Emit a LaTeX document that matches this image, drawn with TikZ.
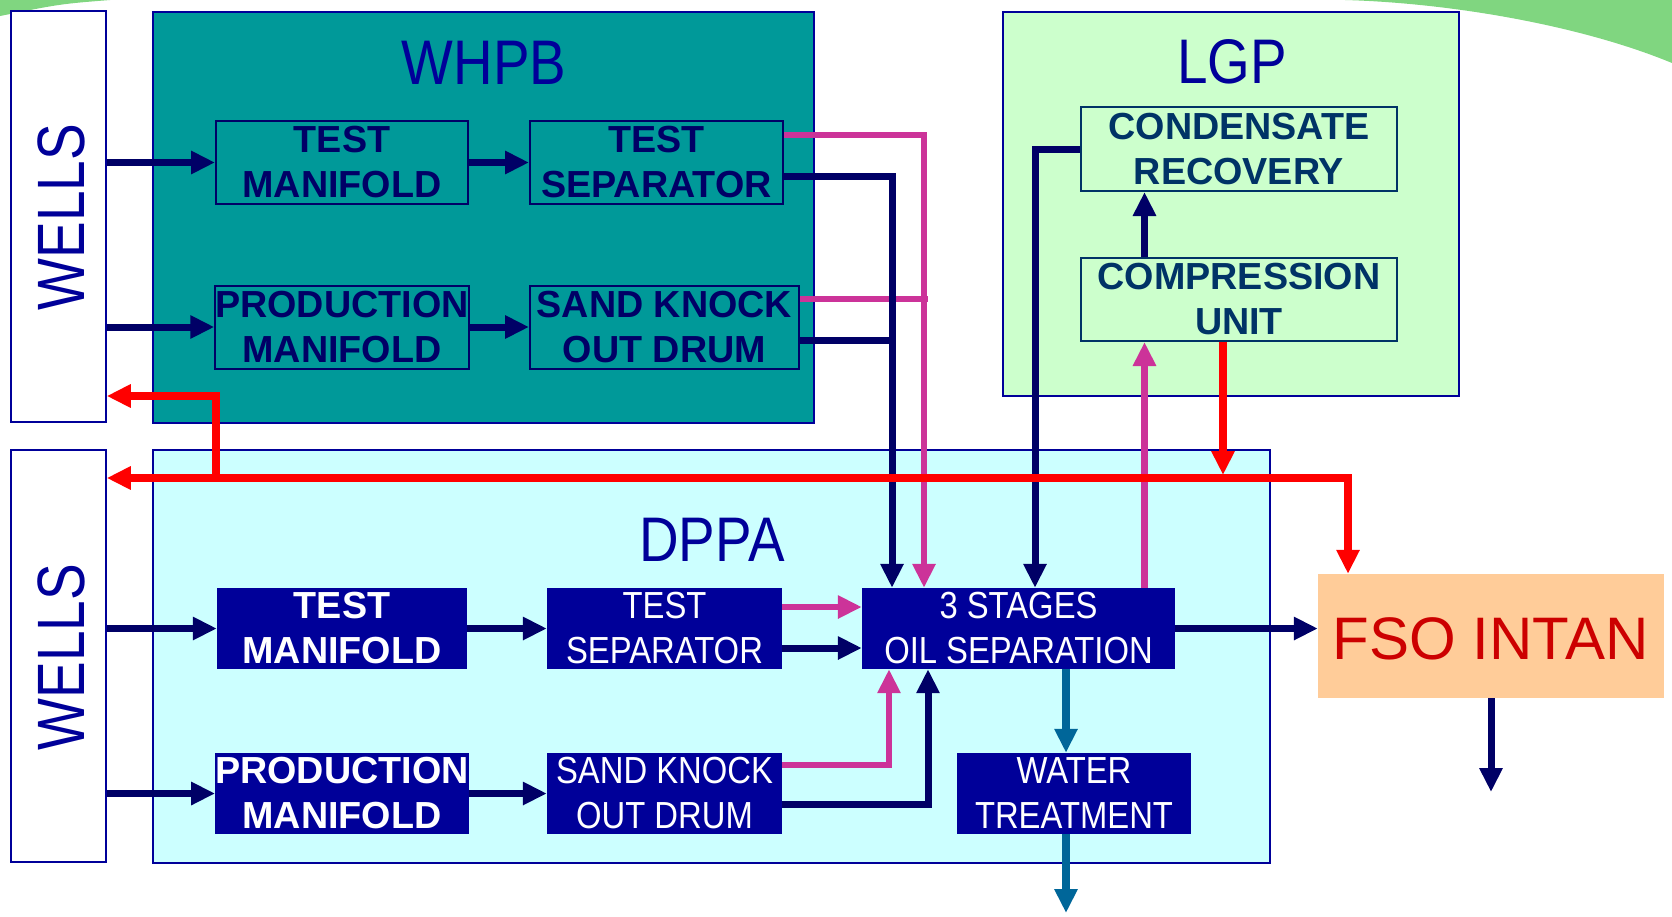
\documentclass[tikz,border=0pt]{standalone}
\usepackage{fontspec}
\setmainfont{Liberation Sans}
\newfontfamily\narrowfont[FakeStretch=0.87]{Liberation Sans}
\newfontfamily\wellsfont[FakeStretch=0.82]{Liberation Sans}
\usetikzlibrary{arrows.meta}
\definecolor{areablue}{HTML}{000099}
\definecolor{flownavy}{HTML}{000066}
\definecolor{gasmagenta}{HTML}{CC3399}
\definecolor{liftred}{HTML}{FF0000}
\definecolor{waterteal}{HTML}{006699}
\definecolor{whpbteal}{HTML}{009999}
\definecolor{lgpgreen}{HTML}{CCFFCC}
\definecolor{dppacyan}{HTML}{CCFFFF}
\definecolor{fsopeach}{HTML}{FFCC99}
\definecolor{fsored}{HTML}{CC0000}
\definecolor{lgptext}{HTML}{003366}
\definecolor{swoosh}{HTML}{80D680}
\begin{document}
\begin{tikzpicture}[x=1pt, y=-1pt, >={Triangle[length=24pt,width=22pt]},
  area/.style={draw=areablue, line width=1.5pt},
  platebox/.style={draw=flownavy, line width=2pt, text=flownavy, align=center, inner sep=0pt, minimum height=83pt, font=\fontsize{37.7}{45}\selectfont\bfseries},
  lgpbox/.style={platebox, draw=lgptext, text=lgptext},
  unitbox/.style={fill=areablue, text=white, align=center, inner sep=0pt, minimum height=81pt, font=\narrowfont\fontsize{37.7}{45}\selectfont},
  boldunit/.style={unitbox, font=\fontsize{37.7}{45}\selectfont\bfseries},
  title/.style={text=areablue, inner sep=0pt, font=\narrowfont\fontsize{63}{63}\selectfont},
  wellsbox/.style={draw=areablue, line width=1.5pt, fill=white, minimum width=95pt, minimum height=411pt},
  wellslabel/.style={rotate=90, text=areablue, inner sep=0pt, font=\wellsfont\fontsize{67}{67}\selectfont},
  oilline/.style={draw=flownavy, line width=7pt},
  gasline/.style={draw=gasmagenta, line width=6.5pt},
  liftline/.style={draw=liftred, line width=7.5pt},
  waterline/.style={draw=waterteal, line width=7.5pt}]
\useasboundingbox (0,0) rectangle (1672,916);
\fill[swoosh] (1345,0) .. controls (1450,3) and (1580,25) .. (1672,63) -- (1672,0) -- cycle;
\fill[swoosh] (0,0) -- (110,0) .. controls (60,4) .. (0,16) -- cycle;

\draw[area, fill=whpbteal] (153,12) rectangle (814,423);
\draw[area, fill=lgpgreen] (1003,12) rectangle (1459,396);
\draw[area, fill=dppacyan] (153,450) rectangle (1270,863);

\node[wellsbox] (wellsA) at (58.5,216.5) {};
\node[wellsbox, minimum height=412pt] (wellsB) at (58.5,656) {};
\node[wellslabel] (wellsAlabel) at (61.5,217) {WELLS};
\node[wellslabel] (wellsBlabel) at (61.5,657) {WELLS};

\node[title] (whpbtitle) at (484,62.5) {WHPB};
\node[title] (lgptitle) at (1232,62) {LGP};
\node[title] (dppatitle) at (712,539.5) {DPPA};

\node[platebox, minimum width=252pt] (tmA) at (342,162.5) {TEST\\MANIFOLD};
\node[platebox, minimum width=253pt] (tsA) at (656.5,162.5) {TEST\\SEPARATOR};
\node[platebox, minimum width=252pt] (pmA) at (342,327) {PRODUCTION\\MANIFOLD};
\node[platebox, minimum width=269pt] (skA) at (664.5,327) {SAND KNOCK\\OUT DRUM};

\node[lgpbox, minimum width=316pt, minimum height=84pt] (cr) at (1239,149) {CONDENSATE\\RECOVERY};
\node[lgpbox, minimum width=316pt] (cu) at (1239,299.5) {COMPRESSION\\UNIT};

\node[boldunit, minimum width=250pt] (tmB) at (342,628.5) {TEST\\MANIFOLD};
\node[unitbox, minimum width=235pt] (tsB) at (664.5,628.5) {TEST\\SEPARATOR};
\node[boldunit, minimum width=250pt] (pmB) at (342,793.5) {PRODUCTION\\MANIFOLD};
\node[unitbox, minimum width=235pt] (skB) at (664.5,793.5) {SAND KNOCK\\OUT DRUM};
\node[unitbox, minimum width=313pt] (os) at (1018.5,628.5) {3 STAGES\\OIL SEPARATION};
\node[unitbox, minimum width=234pt] (wt) at (1074,793.5) {WATER\\TREATMENT};

\node[fill=fsopeach, minimum width=346pt, minimum height=124pt] (fso) at (1491,636) {};
\node[text=fsored, inner sep=0pt, font=\fontsize{60}{60}\selectfont] (fsolabel) at (1490.5,638.5) {FSO INTAN};

\coordinate (colOil) at (892,0);
\coordinate (colGas) at (924,0);
\coordinate (colCond) at (1035,0);
\coordinate (colComp) at (1144.5,0);
\coordinate (colWater) at (1066,0);
\coordinate (liftsplit) at (216,478);
\coordinate (liftup) at (216,396);
\coordinate (liftend) at (1348,478);
\coordinate (liftdrop) at (1223,475);
\coordinate (fsoout) at (1491,792);
\coordinate (waterout) at (1066,913);

\draw[oilline, ->] (wellsA.east |- tmA.west) -- (tmA.west);
\draw[oilline, ->] (tmA) -- (tsA);
\draw[oilline, ->] (wellsA.east |- pmA.west) -- (pmA.west);
\draw[oilline, ->] (pmA) -- (skA);
\draw[gasline, ->] ([yshift=27.5pt]tsA.east) -| (os.north -| colGas);
\draw[gasline] ([yshift=28pt]skA.east) -- ++(128,0);
\draw[oilline, ->] ([yshift=-13.5pt]tsA.east) -| (os.north -| colOil);
\draw[oilline] ([yshift=-13pt]skA.east) -- ++(96,0);

\draw[oilline, ->] (cr.west) -| (os.north -| colCond);
\draw[oilline, ->] (cu.north -| colComp) -- (cr.south -| colComp);
\draw[gasline, ->] (os.north -| colComp) -- (cu.south -| colComp);
\draw[liftline, ->] (cu.south -| liftdrop) -- (liftdrop);

\draw[oilline, ->] (wellsB.east |- tmB.west) -- (tmB.west);
\draw[oilline, ->] (tmB) -- (tsB);
\draw[oilline, ->] (wellsB.east |- pmB.west) -- (pmB.west);
\draw[oilline, ->] (pmB) -- (skB);
\draw[gasline, ->] ([yshift=21.5pt]tsB.east) -- ([yshift=21.5pt]os.west);
\draw[oilline, ->] ([yshift=-19.5pt]tsB.east) -- ([yshift=-19.5pt]os.west);
\draw[gasline, ->] ([yshift=28.5pt]skB.east) -| ([xshift=-129.5pt]os.south);
\draw[oilline, ->] ([yshift=-10.5pt]skB.east) -| ([xshift=-90.5pt]os.south);
\draw[oilline, ->] (os.east) -- (fso.west |- os.east);
\draw[oilline, ->] (fso.south) -- (fsoout);
\draw[waterline, ->] (os.south -| colWater) -- (wt.north -| colWater);
\draw[waterline, ->] (wt.south -| colWater) -- (waterout);

\draw[liftline, <->] (fso.north -| liftend) -- (liftend) -- (wellsB.east |- liftend);
\draw[liftline, ->] (liftsplit) -- (liftup) -- (wellsA.east |- liftup);
\end{tikzpicture}
\end{document}
